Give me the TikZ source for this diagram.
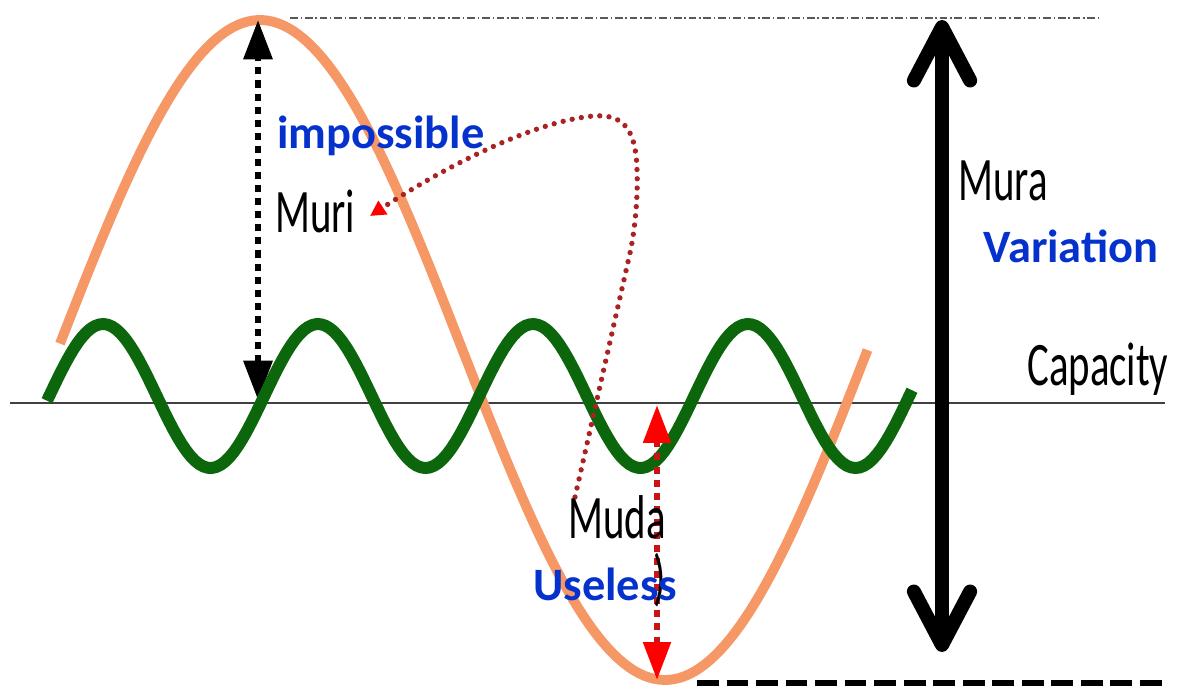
\documentclass[tikz,border=0pt]{standalone}
\usepackage{fontspec}
\setmainfont{Carlito}
\newfontfamily\narrowfont[FakeStretch=0.66]{Carlito}
\usetikzlibrary{arrows.meta}
\definecolor{salmon}{RGB}{246,152,102}
\definecolor{waveGreen}{RGB}{12,102,12}
\definecolor{labelBlue}{RGB}{5,50,205}
\definecolor{dotRed}{RGB}{170,35,35}
\definecolor{dashRed}{RGB}{200,20,20}
\tikzset{
  blacklabel/.style={anchor=base west,inner sep=0pt,font=\narrowfont\fontsize{44}{50}\selectfont},
  bluelabel/.style={anchor=base west,inner sep=0pt,text=labelBlue,font=\bfseries\fontsize{33}{38}\selectfont},
  gauge/.style={line width=4.3pt,dash pattern=on 5pt off 4.3pt}
}
\begin{document}
\begin{tikzpicture}[x=0.025cm,y=-0.025cm,line join=round]
\useasboundingbox (0,0) rectangle (1182,686);
\path
(10,403)coordinate(capL)
(1165,403)coordinate(capR)
(290,18)coordinate(topL)
(1100,18)coordinate(topR)
(697,683)coordinate(botL)
(1165,683)coordinate(botR)
(258,20)coordinate(muriTop)
(258,400)coordinate(muriBot)
(657,405)coordinate(mudaTop)
(657,680)coordinate(mudaBot)
(942,20)coordinate(muraTop)
(942,652)coordinate(muraBot)
(575,497)coordinate(mudaFrom)
(370,216)coordinate(muriTo);
% capacity line and the two limits
\draw[black!75,line width=1.1pt] (capL)--(capR);
\draw[black!65,line width=1pt,dash pattern=on 5.5pt off 2pt on 1pt off 2pt] (topL)--(topR);
\draw[line width=3.6pt,dash pattern=on 15.5pt off 5.5pt] (botL)--(botR);
% demand and capacity waves
\draw[salmon,line width=7pt] plot[domain=60:867.5,samples=160] (\x,{350-330*cos((\x-260)/810*360)});
\draw[gauge,{Triangle[length=28pt,width=20pt]}-{Triangle[length=28pt,width=20pt]}] (muriBot)--(muriTop);
\draw[waveGreen,line width=8.5pt] plot[domain=47:912,samples=200] (\x,{396-72*cos((\x-103)/215*360)});
\draw[gauge,dashRed,{Triangle[length=27pt,width=19pt,color=red]}-{Triangle[length=27pt,width=19pt,color=red]}] (mudaBot)--(mudaTop);
\draw[dotRed,line width=3.8pt,line cap=round,dash pattern=on 0pt off 6.6pt,-{Triangle[length=11pt,width=11pt,color=red,line cap=butt]}]
 (mudaFrom)--(630,253) .. controls (636,225) and (638,190) .. (637,170)
 .. controls (636,125) and (620,114) .. (593,116)
 .. controls (530,122) and (440,170) .. (muriTo);
\draw[line width=10pt,{Straight Barb[length=38pt,width=40pt,round]}-{Straight Barb[length=38pt,width=40pt,round]}] (muraBot)--(muraTop);
% labels
\foreach \t/\p in {Muri/{275,232},Mura/{958,200},Muda/{568,538},Capacity/{1027,385}}
\node[blacklabel] (\t) at (\p) {\t};
\node[blacklabel] (paren) at (653,598) {)};
\foreach \t/\p in {impossible/{277,148},Variation/{983,262},Useless/{533,600}}
\node[bluelabel] (\t) at (\p) {\t};
\end{tikzpicture}
\end{document}
